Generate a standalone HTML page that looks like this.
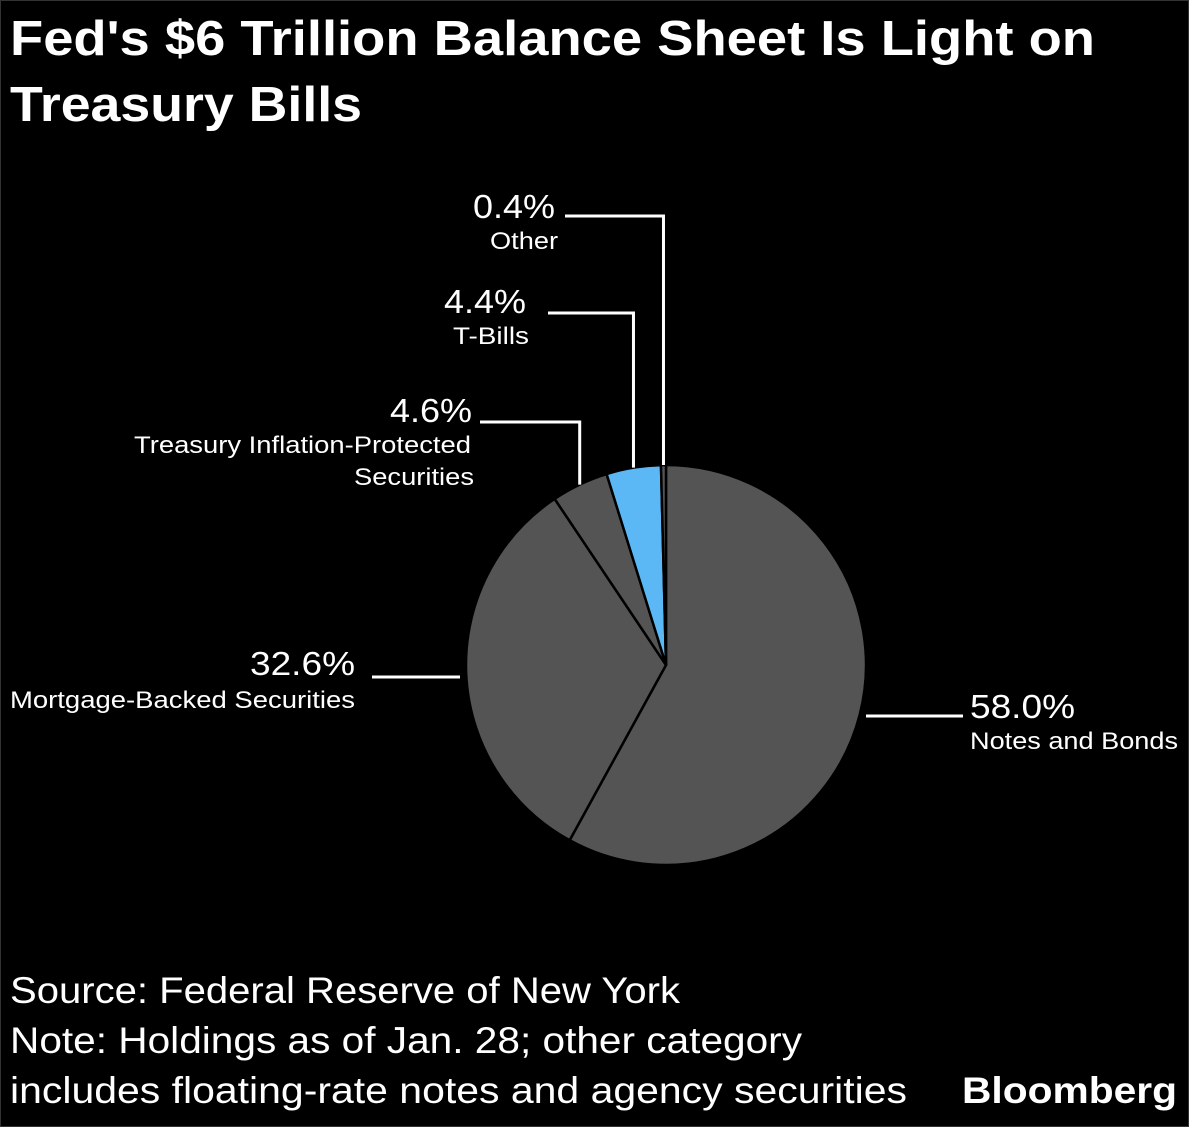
<!DOCTYPE html>
<html><head><meta charset="utf-8"><style>
html,body{margin:0;padding:0;background:#000;}
svg{display:block;font-family:"Liberation Sans",sans-serif;}
</style></head><body>
<svg width="1189" height="1127" viewBox="0 0 1189 1127">
<rect x="0" y="0" width="1189" height="1127" fill="#000"/>
<rect x="0.5" y="0.5" width="1188" height="1126" fill="none" stroke="#333" stroke-width="1"/>
<text x="10" y="55" fill="#fff" font-size="49" font-weight="bold" textLength="1085" lengthAdjust="spacingAndGlyphs">Fed's $6 Trillion Balance Sheet Is Light on</text>
<text x="10" y="121" fill="#fff" font-size="49" font-weight="bold" textLength="352" lengthAdjust="spacingAndGlyphs">Treasury Bills</text>
<g id="pie"></g>
<g id="labels" fill="#fff"></g>
<text x="10" y="1003" fill="#fff" font-size="37" textLength="670" lengthAdjust="spacingAndGlyphs">Source: Federal Reserve of New York</text>
<text x="10" y="1053" fill="#fff" font-size="37" textLength="792" lengthAdjust="spacingAndGlyphs">Note: Holdings as of Jan. 28; other category</text>
<text x="10" y="1103" fill="#fff" font-size="37" textLength="897" lengthAdjust="spacingAndGlyphs">includes floating-rate notes and agency securities</text>
<text x="962" y="1103" fill="#fff" font-size="37" font-weight="bold" textLength="215" lengthAdjust="spacingAndGlyphs">Bloomberg</text>
</svg>
<script>
const categories = ["Notes and Bonds","Mortgage-Backed Securities","Treasury Inflation-Protected Securities","T-Bills","Other"];
const values = [58.0, 32.6, 4.6, 4.4, 0.4];
const valueLabels = ["58.0%","32.6%","4.6%","4.4%","0.4%"];
const colors = ["#545454","#545454","#545454","#5bb8f5","#545454"];
const NS="http://www.w3.org/2000/svg";
const cx=666, cy=665, r=200;
const total=values.reduce((a,b)=>a+b,0);
function pt(frac,rad){const a=frac*2*Math.PI;return [cx+rad*Math.sin(a), cy-rad*Math.cos(a)];}
const pie=document.getElementById('pie');
let acc=0;
values.forEach((v,i)=>{
  const f0=acc/total, f1=(acc+v)/total; acc+=v;
  const [x0,y0]=pt(f0,r),[x1,y1]=pt(f1,r);
  const large=(f1-f0)>0.5?1:0;
  const p=document.createElementNS(NS,'path');
  p.setAttribute('d',`M${cx},${cy} L${x0},${y0} A${r},${r} 0 ${large} 1 ${x1},${y1} Z`);
  p.setAttribute('fill',colors[i]);p.setAttribute('stroke','#000');p.setAttribute('stroke-width','2.5');
  
  
  pie.appendChild(p);
});
const L=document.getElementById('labels');
function txt(x,y,s,size,len,name){const t=document.createElementNS(NS,'text');t.setAttribute('x',x);t.setAttribute('y',y);t.setAttribute('font-size',size);t.setAttribute('textLength',len);t.setAttribute('lengthAdjust','spacingAndGlyphs');t.textContent=s;


L.appendChild(t);}
function line(d,name){const p=document.createElementNS(NS,'path');p.setAttribute('d',d);p.setAttribute('stroke','#fff');p.setAttribute('stroke-width','3');p.setAttribute('fill','none');


L.appendChild(p);}
acc=0;const mids=values.map(v=>{const m=(acc+v/2)/total;acc+=v;return m;});
{const [x,y]=pt(mids[4],r);line(`M565,216 H${x} V${y}`,'leader-other');}
txt(473,218,valueLabels[4],33,82,'value-other');txt(490,249,categories[4],24,68,'label-other');
{const [x,y]=pt(mids[3],r);line(`M548,313 H${x} V${y}`,'leader-tbills');}
txt(444,313,valueLabels[3],33,82,'value-tbills');txt(453,344,categories[3],24,76,'label-tbills');
{const [x,y]=pt(mids[2],r);line(`M480,422 H${x} V${y}`,'leader-tips');}
txt(390,422,valueLabels[2],33,82,'value-tips');txt(134,453,"Treasury Inflation-Protected",24,337,'label-tips-1');txt(354,485,"Securities",24,120,'label-tips-2');
line(`M372,677 H${cx-r-6}`,'leader-mbs');
txt(250,675,valueLabels[1],33,105,'value-mbs');txt(10,708,categories[1],24,345,'label-mbs');
line(`M${cx+r},716 H963`,'leader-notes');
txt(970,718,valueLabels[0],33,105,'value-notes');txt(970,749,categories[0],24,208,'label-notes');
</script>
</body></html>
